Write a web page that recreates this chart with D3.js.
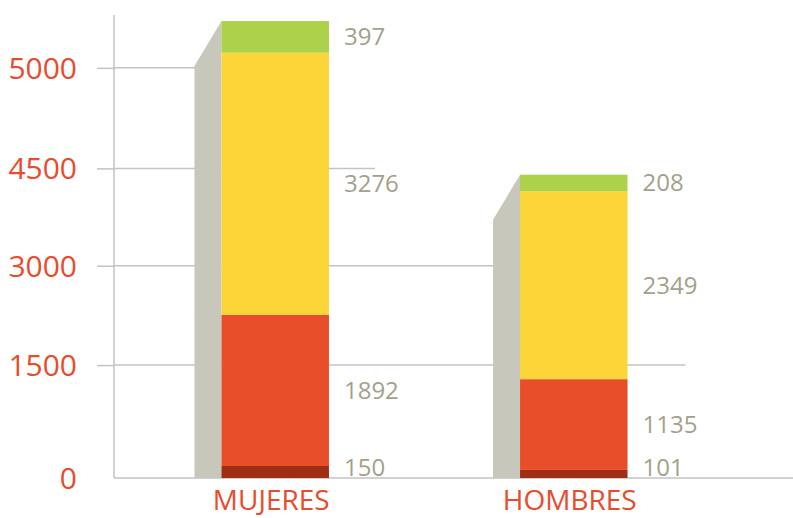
<!DOCTYPE html>
<html>
<head>
<meta charset="utf-8">
<script src="https://cdn.jsdelivr.net/npm/d3@7"></script>
<style>
  html, body { margin: 0; padding: 0; background: #ffffff; }
  svg { display: block; }
</style>
</head>
<body>
<svg id="chart" width="793" height="518"></svg>
<script>
// ---- data ----
const categories = ["MUJERES", "HOMBRES"];
const seriesBase   = [150, 101];    // dark red (bottom)
const seriesRed    = [1892, 1135];  // red
const seriesYellow = [3276, 2349];  // yellow
const seriesGreen  = [397, 208];    // green (top)
const tickValues = [0, 1412, 2654, 3872, 5129];
const tickLabels = ["0", "1500", "3000", "4500", "5000"];

// ---- layout / styles ----
const W = 793, H = 518;
const axisX = 114, baseY = 478, topY = 21;
const colors = ["#9e2f14", "#e94e2b", "#fcd638", "#acd14b"];
const sideColor = "#c8c7bb";
const gridColor = "#c3c3c3";
const valueColor = "#a3a18b";
const accent = "#e84c2b";
const font = "'Open Sans', sans-serif";

const series = [seriesBase, seriesRed, seriesYellow, seriesGreen];
const rows = categories.map((c, i) => {
  const r = { cat: c };
  series.forEach((s, k) => r["s" + k] = s[i]);
  return r;
});
const keys = series.map((s, k) => "s" + k);
const stacked = d3.stack().keys(keys)(rows);
const totals = rows.map(r => keys.reduce((a, k) => a + r[k], 0));

const x = d3.scaleBand().domain(categories).range([axisX, 735])
  .paddingInner(0.64).paddingOuter(0.36);
const y = d3.scaleLinear().domain([0, d3.max(totals)]).range([baseY, topY]);

const svg = d3.select("#chart");

// gridlines (stepped lengths)
const gridEnds = [
  W,
  x("HOMBRES") + x.bandwidth() + 58,
  x("HOMBRES"),
  x("MUJERES") + x.bandwidth() + 46,
  x("MUJERES")
];
svg.append("g").selectAll("line").data(tickValues).join("line")
  .attr("x1", axisX).attr("x2", (d, i) => gridEnds[i])
  .attr("y1", d => y(d)).attr("y2", d => y(d))
  .attr("stroke", gridColor).attr("stroke-width", 1.5);

// y axis with labels
const yAxis = d3.axisLeft(y).tickValues(tickValues)
  .tickFormat((d, i) => tickLabels[i]).tickSize(17).tickPadding(20);
const gAxis = svg.append("g").attr("transform", `translate(${axisX},0)`).call(yAxis);
gAxis.select(".domain").remove();
gAxis.selectAll(".tick line").attr("stroke", gridColor).attr("stroke-width", 1.5)
  .filter(d => d === 0).remove();
gAxis.selectAll(".tick text").attr("fill", accent)
  .style("font-family", font).style("font-size", "30px").attr("dy", "0.35em");

// vertical axis line
svg.append("line").attr("x1", axisX).attr("x2", axisX)
  .attr("y1", 15).attr("y2", baseY)
  .attr("stroke", gridColor).attr("stroke-width", 1.5);

// 3D side of bars
const sideW = 27, sideDrop = 45;
svg.append("g").selectAll("path").data(rows).join("path")
  .attr("d", (d, i) => {
    const x0 = x(d.cat), yt = y(totals[i]);
    return `M${x0 - sideW},${y(0)}L${x0 - sideW},${yt + sideDrop}L${x0},${yt}L${x0},${y(0)}Z`;
  })
  .attr("fill", sideColor);

// stacked bars
svg.append("g").selectAll("g").data(stacked).join("g")
  .attr("fill", (d, k) => colors[k])
  .selectAll("rect").data(d => d).join("rect")
  .attr("x", d => x(d.data.cat))
  .attr("width", x.bandwidth())
  .attr("y", d => y(d[1]))
  .attr("height", d => y(d[0]) - y(d[1]));

// value labels
const labelData = [];
stacked.forEach((s, k) => s.forEach(d => labelData.push({
  cat: d.data.cat, v: d[1] - d[0], mid: (y(d[0]) + y(d[1])) / 2
})));
svg.append("g").selectAll("text").data(labelData).join("text")
  .attr("x", d => x(d.cat) + x.bandwidth() + 15)
  .attr("y", d => Math.min(d.mid, baseY - 10))
  .attr("dy", "0.35em")
  .attr("fill", valueColor)
  .style("font-family", font).style("font-size", "24px")
  .text(d => d.v);

// category labels
svg.append("g").selectAll("text").data(categories).join("text")
  .attr("x", d => x(d) + x.bandwidth() / 2 - 4)
  .attr("y", 510)
  .attr("text-anchor", "middle")
  .attr("fill", accent)
  .style("font-family", font).style("font-size", "28px")
  .text(d => d);
</script>
</body>
</html>
